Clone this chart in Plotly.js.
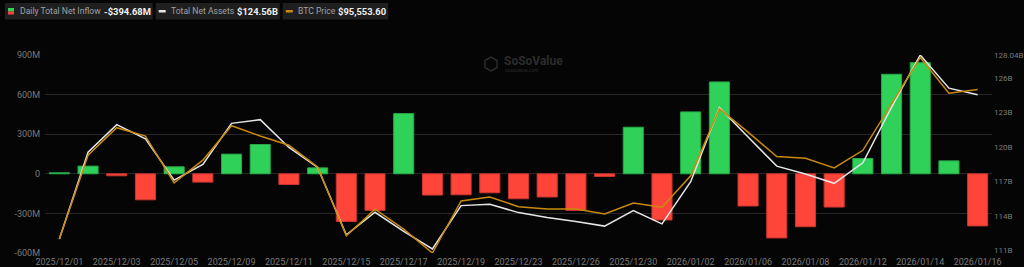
<!DOCTYPE html>
<html>
<head>
<meta charset="utf-8">
<script src="https://cdn.plot.ly/plotly-3.0.1.min.js"></script>
<style>
html,body{margin:0;padding:0;background:#050505;}
#chart{width:1024px;height:267px;}
</style>
</head>
<body>
<div id="chart"></div>
<script>
// ---- data ----
const dates = ["2025/12/01","2025/12/02","2025/12/03","2025/12/04","2025/12/05","2025/12/08","2025/12/09","2025/12/10","2025/12/11","2025/12/12","2025/12/15","2025/12/16","2025/12/17","2025/12/18","2025/12/19","2025/12/22","2025/12/23","2025/12/24","2025/12/26","2025/12/29","2025/12/30","2025/12/31","2026/01/02","2026/01/05","2026/01/06","2026/01/07","2026/01/08","2026/01/09","2026/01/12","2026/01/13","2026/01/14","2026/01/15","2026/01/16"];
// Daily total net inflow (million USD)
const netInflow = [8,58,-15,-197,53,-63,149,222,-81,45,-361,-277,456,-161,-159,-144,-189,-176,-277,-20,353,-350,469,696,-244,-486,-401,-252,116,754,842,98,-394.68];
// Total net assets (billion USD)
const totalAssets = [111.96,119.55,121.96,120.71,117.11,118.48,122.07,122.39,119.96,118.22,112.33,114.30,112.62,111.09,114.88,115.00,114.27,113.84,113.49,113.09,114.44,113.29,116.97,123.44,120.88,118.33,117.64,116.83,118.62,123.49,128.04,125.14,124.56];
// BTC price (USD)
const btcPrice = [85899,91314,93093,92553,89535,90993,93221,92553,91956,90562,86111,87826,86541,85000,88359,88616,87993,87845,87845,87524,88231,87955,89985,94313,92810,91230,91121,90498,91635,94635,97628,95315,95553.6];
// axis ticks
const xTickVals = ["2025/12/01","2025/12/03","2025/12/05","2025/12/09","2025/12/11","2025/12/15","2025/12/17","2025/12/19","2025/12/23","2025/12/26","2025/12/30","2026/01/02","2026/01/06","2026/01/08","2026/01/12","2026/01/14","2026/01/16"];
const leftTickVals = [-600,-300,0,300,600,900];
const leftTickText = ["-600M","-300M","0","300M","600M","900M"];
const rightTickVals = [111,114,117,120,123,126,128.04];
const rightTickText = ["111B","114B","117B","120B","123B","126B","128.04B"];
// legend texts
const legendLabels = ["Daily Total Net Inflow","Total Net Assets","BTC Price"];
const legendValues = ["-$394.68M","$124.56B","$95,553.60"];

// ---- layout helpers (pixel -> paper) ----
const W=1024,H=267,ML=45,MR=32,MT=55,MB=14;
const PW=W-ML-MR, PH=H-MT-MB;
const px=x=>(x-ML)/PW, py=y=>(H-MB-y)/PH;

const GREEN="#30d158", RED="#ff453a", WHITE="#e6e6e6", ORANGE="#c98a0c";
const barColors = netInflow.map(v=>v>=0?GREEN:RED);
const barLines = netInflow.map(v=>v>=0?"#25a946":"#c9362e");

const traces=[
 {type:"bar",x:dates,y:netInflow,marker:{color:barColors,line:{color:barLines,width:1}},yaxis:"y",hoverinfo:"skip"},
 {type:"scatter",mode:"lines",x:dates,y:totalAssets,line:{color:WHITE,width:1.5},yaxis:"y2",hoverinfo:"skip"},
 {type:"scatter",mode:"lines",x:dates,y:btcPrice,line:{color:ORANGE,width:1.5},yaxis:"y3",hoverinfo:"skip"}
];

const FAM="Roboto, 'Open Sans', sans-serif";
const tickFont={family:FAM,size:9,color:"#7a7a7a"};

// measure text to fit the legend pills
const ctx=document.createElement("canvas").getContext("2d");
function tw(t,size,bold){ctx.font=(bold?"bold ":"")+size+"px Roboto";return ctx.measureText(t).width;}
const labSize=Math.min(10, 10*81/tw(legendLabels[0],10,false));
const valSize=Math.min(12.5, 12*47/tw(legendValues[0],12,true));

const shapes=[], annotations=[];
let cur=5;
const icons=["sq",WHITE,ORANGE];
legendLabels.forEach((lab,i)=>{
  const x0=cur;
  const iconW = 14;
  const lw=tw(lab,labSize,false), vw=tw(legendValues[i],valSize,true);
  const lx=x0+iconW, vx=lx+lw+3, x1=vx+vw+3;
  shapes.push({type:"rect",xref:"paper",yref:"paper",x0:px(x0),x1:px(x1),y0:py(19.5),y1:py(3),fillcolor:"#1f1f1f",line:{width:0},layer:"above"});
  if(icons[i]==="sq"){
    shapes.push({type:"rect",xref:"paper",yref:"paper",x0:px(x0+3),x1:px(x0+9),y0:py(11.5),y1:py(8),fillcolor:GREEN,line:{width:0},layer:"above"});
    shapes.push({type:"rect",xref:"paper",yref:"paper",x0:px(x0+3),x1:px(x0+9),y0:py(14.5),y1:py(11.5),fillcolor:RED,line:{width:0},layer:"above"});
  } else {
    shapes.push({type:"rect",xref:"paper",yref:"paper",x0:px(x0+3),x1:px(x0+10),y0:py(12.5),y1:py(10),fillcolor:icons[i],line:{width:0},layer:"above"});
  }
  annotations.push({xref:"paper",yref:"paper",x:px(lx),y:py(11.5),xanchor:"left",yanchor:"middle",showarrow:false,borderpad:0,
    text:lab,font:{family:FAM,size:labSize,color:"#a0a0a0"}});
  annotations.push({xref:"paper",yref:"paper",x:px(vx),y:py(11.5),xanchor:"left",yanchor:"middle",showarrow:false,borderpad:0,
    text:"<b>"+legendValues[i]+"</b>",font:{family:FAM,size:valSize,color:"#f0f0f0"}});
  cur=x1+3;
});
// watermark
annotations.push({xref:"paper",yref:"paper",x:px(502),y:py(61),xanchor:"left",yanchor:"middle",showarrow:false,
  text:"<b>SoSoValue</b>",font:{family:FAM,size:12,color:"#2c2c2c"}});
annotations.push({xref:"paper",yref:"paper",x:px(503),y:py(70),xanchor:"left",yanchor:"middle",showarrow:false,
  text:"sosovalue.com",font:{family:FAM,size:5,color:"#2a2a2a"}});
// hexagon logo
(function(){
  const cx=491, cy=64, r=7; let p="";
  for(let i=0;i<6;i++){const a=Math.PI/3*i+Math.PI/6; const X=px(cx+r*Math.cos(a)), Y=py(cy+r*Math.sin(a)); p+=(i?"L":"M")+X+","+Y;}
  shapes.push({type:"path",xref:"paper",yref:"paper",path:p+"Z",line:{color:"#2c2c2c",width:1.5}});
})();

const layout={
  width:W,height:H,
  margin:{l:ML,r:MR,t:MT,b:MB,pad:0},
  paper_bgcolor:"#050505",plot_bgcolor:"#050505",
  showlegend:false,bargap:0.3,
  xaxis:{type:"category",tickmode:"array",tickvals:xTickVals,ticktext:xTickVals,tickfont:tickFont,showgrid:false,zeroline:false,showline:false,ticks:"",ticklabelstandoff:2,fixedrange:true},
  yaxis:{range:[-600,900],tickmode:"array",tickvals:leftTickVals,ticktext:leftTickText,tickfont:tickFont,gridcolor:"#262626",gridwidth:1,zeroline:true,zerolinecolor:"#262626",zerolinewidth:1,showline:false,ticks:"",ticklabelstandoff:4},
  yaxis2:{overlaying:"y",side:"right",range:[110.74,128.04],tickmode:"array",tickvals:rightTickVals,ticktext:rightTickText,tickfont:{family:FAM,size:8,color:"#7a7a7a"},showgrid:false,zeroline:false,showline:false,ticks:"",ticklabelstandoff:1},
  yaxis3:{overlaying:"y",side:"right",range:[85000,97788],visible:false},
  shapes:shapes,annotations:annotations
};
Plotly.newPlot("chart",traces,layout,{staticPlot:true,displayModeBar:false});
</script>
</body>
</html>
